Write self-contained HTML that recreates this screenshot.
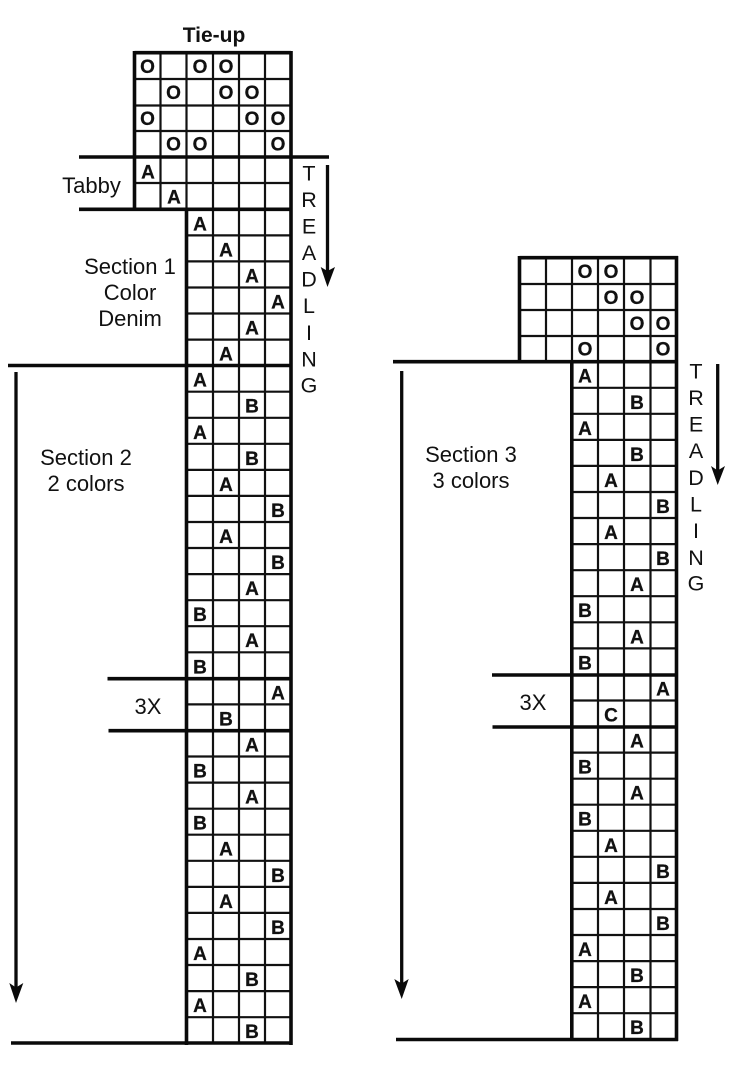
<!DOCTYPE html>
<html><head><meta charset="utf-8"><title>Tie-up</title>
<style>
html,body{margin:0;padding:0;background:#fff;width:750px;height:1081px;overflow:hidden}
svg{display:block}
text{font-family:"Liberation Sans",Arial,sans-serif;fill:#111}
.c text{font-size:19px;font-weight:700;text-anchor:middle;stroke:#111;stroke-width:.25}
.l text{font-size:22px;text-anchor:middle}
.t text{font-size:21.5px;text-anchor:middle}
.thin{stroke:#111;stroke-width:2.2;fill:none}
.thick{stroke:#0a0a0a;stroke-width:3.6;fill:none}
.ar{fill:#0a0a0a;stroke:none}
</style></head><body>
<svg width="750" height="1081" viewBox="0 0 750 1081" xmlns="http://www.w3.org/2000/svg">
<!-- LEFT thin -->
<path class="thin" d="M160.5 53V209M186.5 53V209M213 53V1043M239 53V1043M265 53V1043
M134 79H291M134 105.5H291M134 131H291M134 183H291
M186 235.4H291M186 261.4H291M186 287.5H291M186 313.5H291M186 339.6H291
M186 391.7H291M186 417.8H291M186 443.8H291M186 469.9H291M186 495.9H291M186 522H291M186 548H291M186 574.1H291M186 600.2H291M186 626.2H291M186 652.3H291
M186 704.4H291
M186 756.5H291M186 782.6H291M186 808.7H291M186 834.7H291M186 860.8H291M186 886.9H291M186 912.9H291M186 939H291M186 965H291M186 991.1H291M186 1017.2H291"/>
<!-- LEFT thick -->
<path class="thick" d="M134.5 157V209.3M134.5 52.7H291M134.5 51V157M291 51V1045M186.5 209V1045
M79 157H329M79 209.3H291M8 365.5H291M107.5 678.7H291M108.5 730.7H291M11 1043H292.5"/>
<!-- RIGHT thin -->
<path class="thin" d="M546 258V362M572 258V362M598 258V1039M624 258V1039M650.5 258V1039
M520 284H676M520 310H676M520 336H676
M572 387.8H676M572 413.8H676M572 439.9H676M572 465.9H676M572 492H676M572 518H676M572 544.1H676M572 570.2H676M572 596.2H676M572 622.3H676M572 648.4H676
M572 700.5H676
M572 752.6H676M572 778.7H676M572 804.7H676M572 830.8H676M572 856.8H676M572 882.9H676M572 909H676M572 935H676M572 961.1H676M572 987.1H676M572 1013.2H676"/>
<!-- RIGHT thick -->
<path class="thick" d="M519.5 256V362M519.5 257.7H678M676.5 256V1041M571.8 362V1041
M393 361.7H676M492 675H676M492.5 727H676M396 1039.5H678"/>
<!-- arrows -->
<path class="thick" style="stroke-width:3.3" d="M327.5 165V275M16 372V992M401.7 371V988M717.7 364V474"/>
<path class="ar" d="M327.5 287L320.7 267L327.5 271L335 267Z"/>
<path class="ar" d="M16 1003L9.3 983L16 987.5L23.3 983Z"/>
<path class="ar" d="M401.7 999L394.3 979L401.7 983.5L408.7 979Z"/>
<path class="ar" d="M717.7 485L711 466L717.7 470.5L725 466Z"/>
<!-- labels -->
<text x="214" y="42" style="font-size:21px;font-weight:700;text-anchor:middle">Tie-up</text>
<g class="l">
<text x="91.5" y="193">Tabby</text>
<text x="130" y="274">Section 1</text>
<text x="130" y="300">Color</text>
<text x="130" y="326">Denim</text>
<text x="86" y="465">Section 2</text>
<text x="86" y="491">2 colors</text>
<text x="148" y="714">3X</text>
<text x="471" y="462">Section 3</text>
<text x="471" y="488">3 colors</text>
<text x="533" y="710">3X</text>
</g>
<g class="t">
<text x="309" y="180.5">T</text><text x="309" y="207">R</text><text x="309" y="233.5">E</text><text x="309" y="260">A</text><text x="309" y="286.5">D</text><text x="309" y="313">L</text><text x="309" y="340">I</text><text x="309" y="366.5">N</text><text x="309" y="392.7">G</text>
<text x="696" y="378.5">T</text><text x="696" y="405">R</text><text x="696" y="431.5">E</text><text x="696" y="458">A</text><text x="696" y="485">D</text><text x="696" y="511.5">L</text><text x="696" y="538">I</text><text x="696" y="565">N</text><text x="696" y="590.7">G</text>
</g>
<g class="c">
<!-- left tie-up -->
<text x="147.5" y="73">O</text><text x="200" y="73">O</text><text x="226" y="73">O</text>
<text x="173.5" y="99">O</text><text x="226" y="99">O</text><text x="252" y="99">O</text>
<text x="147.5" y="125">O</text><text x="252" y="125">O</text><text x="278" y="125">O</text>
<text x="173.5" y="150.5">O</text><text x="200" y="150.5">O</text><text x="278" y="150.5">O</text>
<text x="148" y="178.5">A</text><text x="174" y="203.5">A</text>
<!-- section 1 -->
<text x="200" y="230.5">A</text><text x="226" y="256.5">A</text><text x="252" y="282.5">A</text><text x="278" y="308.5">A</text><text x="252" y="334.5">A</text><text x="226" y="360.5">A</text>
<!-- section 2 -->
<text x="200" y="386.7">A</text><text x="252" y="412.7">B</text><text x="200" y="438.8">A</text><text x="252" y="464.8">B</text><text x="226" y="490.9">A</text><text x="278" y="516.9">B</text><text x="226" y="543">A</text><text x="278" y="569">B</text><text x="252" y="595.1">A</text><text x="200" y="621.2">B</text><text x="252" y="647.2">A</text><text x="200" y="673.3">B</text>
<text x="278" y="699.4">A</text><text x="226" y="725.4">B</text>
<text x="252" y="751.5">A</text><text x="200" y="777.5">B</text><text x="252" y="803.6">A</text><text x="200" y="829.7">B</text><text x="226" y="855.7">A</text><text x="278" y="881.8">B</text><text x="226" y="907.9">A</text><text x="278" y="933.9">B</text><text x="200" y="960">A</text><text x="252" y="986">B</text><text x="200" y="1012.1">A</text><text x="252" y="1038.2">B</text>
<!-- right tie-up -->
<text x="585" y="278">O</text><text x="611" y="278">O</text>
<text x="611" y="304">O</text><text x="637" y="304">O</text>
<text x="637" y="330">O</text><text x="663" y="330">O</text>
<text x="585" y="355.5">O</text><text x="663" y="355.5">O</text>
<!-- section 3 -->
<text x="585" y="382.7">A</text><text x="637" y="408.8">B</text><text x="585" y="434.8">A</text><text x="637" y="460.9">B</text><text x="611" y="486.9">A</text><text x="663" y="513">B</text><text x="611" y="539">A</text><text x="663" y="565.1">B</text><text x="637" y="591.2">A</text><text x="585" y="617.2">B</text><text x="637" y="643.3">A</text><text x="585" y="669.4">B</text>
<text x="663" y="695.4">A</text><text x="611" y="721.5">C</text>
<text x="637" y="747.5">A</text><text x="585" y="773.6">B</text><text x="637" y="799.7">A</text><text x="585" y="825.7">B</text><text x="611" y="851.8">A</text><text x="663" y="877.8">B</text><text x="611" y="903.9">A</text><text x="663" y="930">B</text><text x="585" y="956">A</text><text x="637" y="982.1">B</text><text x="585" y="1008.1">A</text><text x="637" y="1034.2">B</text>
</g>
</svg>
</body></html>
